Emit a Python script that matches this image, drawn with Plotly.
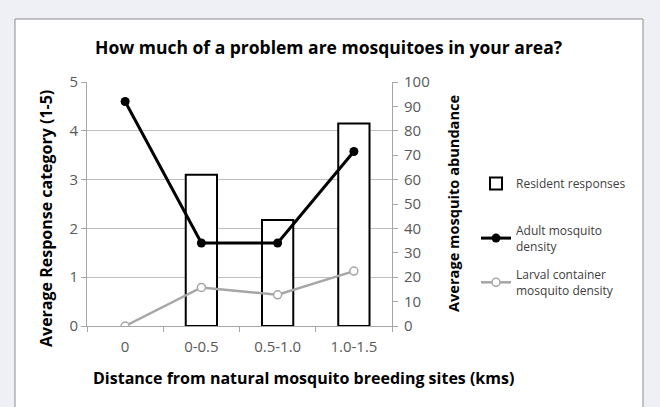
import plotly.graph_objects as go

categories = ["0", "0-0.5", "0.5-1.0", "1.0-1.5"]
resident_responses = [None, 3.1, 2.17, 4.15]
adult_density = [92, 34, 34, 71.5]
larval_density = [0, 15.8, 12.8, 22.5]

FONT = "Open Sans"
L, R, T, B = 87, 268, 82, 81
W, H = 660, 407
pw, ph = W - L - R, H - T - B

def px(x):
    return (x - L) / pw

def py(y):
    return (H - B - y) / ph

fig = go.Figure()
fig.add_trace(go.Bar(
    x=categories, y=resident_responses, name="Resident responses",
    marker=dict(color="white", line=dict(color="black", width=2)),
    width=0.41, yaxis="y", legend="legend",
))
fig.add_trace(go.Scatter(
    x=categories, y=adult_density, name="Adult mosquito<br>density",
    mode="lines+markers", line=dict(color="black", width=3),
    marker=dict(color="black", size=9, symbol="circle"), yaxis="y2",
    legend="legend2", legendgroup="a",
))
fig.add_trace(go.Scatter(
    x=categories, y=larval_density, name="Larval container<br>mosquito density",
    mode="lines+markers", line=dict(color="#A6A6A6", width=2.5),
    marker=dict(color="white", size=8, symbol="circle",
                line=dict(color="#A6A6A6", width=1.5)), yaxis="y2",
    legend="legend2", legendgroup="b",
))

legend_common = dict(xanchor="left", yanchor="top",
                     font=dict(size=12, color="#404040", family=FONT),
                     bgcolor="rgba(0,0,0,0)", itemwidth=30)

fig.update_layout(
    width=W, height=H,
    margin=dict(l=L, r=R, t=T, b=B),
    paper_bgcolor="#EEF0F5", plot_bgcolor="white",
    font=dict(family=FONT, color="#595959", size=15),
    showlegend=True,
    legend=dict(x=px(476), y=py(169), **legend_common),
    legend2=dict(x=px(476), y=py(216), tracegroupgap=10, **legend_common),
    xaxis=dict(type="category", showline=True, linecolor="#A6A6A6",
               ticks="outside", tickson="boundaries", ticklen=5,
               tickcolor="#A6A6A6", showgrid=False, tickfont=dict(size=15),
               ticklabelstandoff=7, range=[-0.5, 3.5]),
    yaxis=dict(range=[0, 5], dtick=1, showgrid=True, gridcolor="#BFBFBF",
               gridwidth=1, showline=True, linecolor="#A6A6A6",
               ticks="outside", ticklen=5, tickcolor="#A6A6A6",
               zeroline=False, tickfont=dict(size=15)),
    yaxis2=dict(range=[0, 100], dtick=10, overlaying="y", side="right",
                showgrid=False, showline=True, linecolor="#A6A6A6",
                ticks="outside", ticklen=5, tickcolor="#A6A6A6",
                zeroline=False, tickfont=dict(size=15), ticklabelstandoff=3),
    bargap=0.59,
    shapes=[dict(type="rect", xref="paper", yref="paper",
                 x0=px(15), x1=px(643), y0=py(420), y1=py(19),
                 fillcolor="white", line=dict(color="#8C8C8C", width=1),
                 layer="below")],
    annotations=[
        dict(text="<b>How much of a problem are mosquitoes in your area?</b>",
             xref="paper", yref="paper", x=px(328), y=py(47), showarrow=False,
             font=dict(size=17.5, color="black"), xanchor="center", yanchor="middle"),
        dict(text="<b>Distance from natural mosquito breeding sites (kms)</b>",
             xref="paper", yref="paper", x=px(303), y=py(378), showarrow=False,
             font=dict(size=16, color="black"), xanchor="center", yanchor="middle"),
        dict(text="<b>Average Response category (1-5)</b>",
             xref="paper", yref="paper", x=px(46), y=py(219), showarrow=False,
             textangle=-90, font=dict(size=16, color="black"),
             xanchor="center", yanchor="middle"),
        dict(text="<b>Average mosquito abundance</b>",
             xref="paper", yref="paper", x=px(453), y=py(204), showarrow=False,
             textangle=-90, font=dict(size=14.6, color="black"),
             xanchor="center", yanchor="middle"),
    ],
)

fig.write_html("out.html", config={"displayModeBar": False},
               post_script="document.body.style.margin='0px';")
